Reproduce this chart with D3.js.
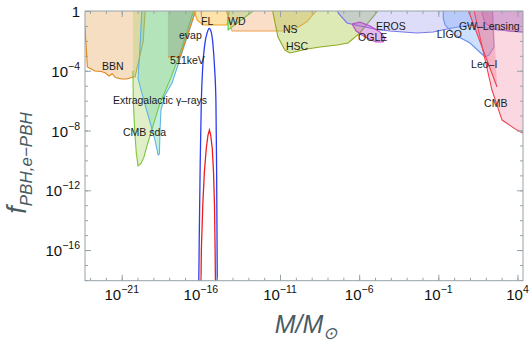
<!DOCTYPE html>
<html>
<head>
<meta charset="utf-8">
<script src="https://cdn.jsdelivr.net/npm/d3@7"></script>
<style>
  body { margin: 0; background: #fff; }
  svg { display: block; font-family: "Liberation Sans", Arial, sans-serif; }
</style>
</head>
<body>
<div id="chart"></div>
<script>
// axis ranges (log10)
const xRange = [-23.32, 4.35],
  yRange = [-18.05, 0];
const xMajor = [-21, -16, -11, -6, -1, 4];
const yMajor = [0, -4, -8, -12, -16];

// constraint regions, points are [log10 M/Msun, log10 f]
const bbn = [[-23.6, -1.07], [-23.32, -1.07], [-23.17, -3.75], [-22.9, -3.9], [-22.69, -4.02], [-22.3, -4.05], [-22.05, -4.13], [-21.8, -4.35], [-21.6, -4.2], [-21.4, -4.45], [-21.0, -4.55], [-20.68, -4.55], [-20.29, -4.42], [-20.16, -4.42], [-19.65, -2.07], [-19.5, 0.3], [-23.6, 0.3]];
const cmbSda = [[-20.29, -4.0], [-20.27, -6.0], [-20.18, -8.0], [-20.08, -9.5], [-19.97, -10.37], [-19.78, -10.2], [-19.6, -9.8], [-19.4, -9.0], [-18.58, -6.16], [-17.95, -4.62], [-17.3, -2.8], [-16.5, -0.13], [-16.4, 0.3], [-20.29, 0.3]];
const egb = [[-19.72, 0.3], [-19.85, -2.5], [-19.97, -4.49], [-19.78, -5.29], [-19.34, -6.96], [-18.9, -8.63], [-18.7, -9.64], [-18.62, -9.57], [-18.58, -7.97], [-18.52, -6.63], [-18.26, -5.62], [-17.82, -4.82], [-16.37, -0.13], [-16.3, 0.3]];
const evap = [[-18.08, -3.08], [-17.32, -3.08], [-16.24, 0.3], [-18.08, 0.3]];
const fl = [[-16.5, 0.3], [-16.24, -0.6], [-15.86, -0.94], [-14.35, -0.94], [-14.16, 0.3]];
const wd = [[-14.28, 0.3], [-14.28, -1.27], [-12.77, -0.07], [-12.7, 0.3]];
const ns = [[-14.47, 0.3], [-14.03, -1.34], [-10.81, -1.34], [-9.95, -1.16], [-9.31, -0.72], [-8.47, 0.3]];
const hsc = [[-11.5, 0.3], [-11.44, -0.13], [-11.13, -1.74], [-10.69, -2.61], [-10.37, -2.81], [-9.29, -2.54], [-8.47, -2.41], [-7.4, -2.28], [-6.7, -2.14], [-5.95, -1.47], [-5.44, -0.8], [-4.87, -0.07], [-4.8, 0.3]];
const eros = [[-7.4, 0.3], [-7.33, -0.13], [-6.77, -0.8], [-5.95, -1.0], [-4.68, -1.27], [-4.05, -1.34], [-3.23, -1.41], [-2.34, -1.47], [-1.33, -1.41], [-0.45, -1.2], [0.24, -1.07], [1.0, -0.94], [2.71, -1.27], [4.35, -1.41], [4.6, -1.41], [4.6, 0.3]];
const ogle = [[-6.45, -0.87], [-5.95, -0.74], [-5.31, -1.0], [-4.68, -1.41], [-4.37, -1.81], [-4.49, -2.07], [-4.94, -2.07], [-5.63, -1.74], [-6.19, -1.34], [-6.45, -0.87]];
const ligo = [[-0.7, 0.3], [-0.68, -0.5], [-0.57, -0.94], [0.06, -1.61], [1.0, -2.14], [1.95, -3.08], [2.2, -2.95], [2.52, -2.41], [2.4, 0.3]];
const gwLens = [[1.7, 0.3], [1.78, -0.2], [1.95, -0.8], [2.3, -1.05], [2.71, -1.2], [3.5, -1.35], [4.35, -1.41], [4.6, -1.41], [4.6, 0.3]];
const cmbAcc = [[1.2, 0.3], [1.26, 0], [2.39, -5.29], [3.03, -7.3], [3.97, -7.97], [4.35, -8.17], [4.6, -8.3], [4.6, 0.3]];
const leoI = [[2.46, 0.3], [0.8, 0.3], [2.71, -5.09]];

// e-PBH curves
const bluePBH = [[-16.14, -19], [-16.1, -15], [-16.04, -10], [-15.97, -6.0], [-15.88, -3.7], [-15.75, -2.2], [-15.6, -1.45], [-15.47, -1.16], [-15.35, -1.4], [-15.24, -2.2], [-15.14, -3.7], [-15.05, -6.0], [-15.01, -10], [-14.98, -15], [-14.96, -19]];
const redPBH = [[-16.0, -19], [-15.97, -16], [-15.88, -13], [-15.78, -10.8], [-15.66, -9.2], [-15.55, -8.3], [-15.46, -7.97], [-15.38, -8.3], [-15.28, -9.2], [-15.2, -10.8], [-15.14, -13], [-15.1, -16], [-15.07, -19]];

// region labels: text, log10 M, log10 f
const labels = [
  ["BBN", -22.24, -3.95],
  ["evap", -17.38, -1.87],
  ["511keV", -17.95, -3.55],
  ["FL", -15.99, -0.94],
  ["WD", -14.28, -0.94],
  ["NS", -10.81, -1.47],
  ["HSC", -10.62, -2.61],
  ["EROS", -4.94, -1.27],
  ["OGLE", -6.07, -2.0],
  ["LIGO", -1.1, -1.8],
  ["GW–Lensing", 0.3, -1.27],
  ["Leo–I", 1.07, -3.82],
  ["CMB", 1.89, -6.43],
  ["Extragalactic γ–rays", -21.55, -6.22],
  ["CMB sda", -20.92, -8.37],
];

const regions = [
  { pts: bbn, fill: "#e8a860", stroke: "#e0861a", op: 0.38 },
  { pts: cmbSda, fill: "#a8d060", stroke: "#7cc63a", op: 0.35 },
  { pts: egb, fill: "#60d0a0", stroke: "#5fb4e6", op: 0.35 },
  { pts: evap, fill: "#7a8a70", stroke: "#e8861a", op: 0.3 },
  { pts: fl, fill: "#f8c040", stroke: "#f0a020", op: 0.45 },
  { pts: wd, fill: "#60e060", stroke: "#40d040", op: 0.35 },
  { pts: ns, fill: "#f0a060", stroke: "#f0a050", op: 0.35 },
  { pts: hsc, fill: "#a8c840", stroke: "#90aa20", op: 0.38 },
  { pts: eros, fill: "#9090f0", stroke: "#7878e8", op: 0.3 },
  { pts: ogle, fill: "#c050d0", stroke: "#b848c8", op: 0.4 },
  { pts: ligo, fill: "#80b0f8", stroke: "#6890f0", op: 0.4 },
  { pts: gwLens, fill: "#a060c0", stroke: "#9a5ccc", op: 0.3 },
  { pts: cmbAcc, fill: "#f490a8", stroke: "#f04050", op: 0.35 },
  { pts: leoI, fill: "#f06080", stroke: "#f04050", op: 0.3 },
];

const width = 529,
  height = 343,
  plotLeft = 85,
  plotRight = 523,
  plotTop = 11,
  plotBottom = 280.7,
  frameColor = "#97a3a8",
  labelColor = "#4a5b64";

const x = d3.scaleLog().domain([10 ** xRange[0], 10 ** xRange[1]]).range([plotLeft, plotRight]);
const y = d3.scaleLog().domain([10 ** yRange[0], 10 ** yRange[1]]).range([plotBottom, plotTop]);

const svg = d3.select("#chart").append("svg").attr("width", width).attr("height", height);

svg.append("clipPath").attr("id", "plot-clip").append("rect").attr("x", plotLeft).attr("y", plotTop).attr("width", plotRight - plotLeft).attr("height", plotBottom - plotTop);

const line = d3
  .line()
  .x((d) => x(10 ** d[0]))
  .y((d) => y(10 ** d[1]));

// regions
let area = svg.append("g").attr("clip-path", "url(#plot-clip)");
regions.forEach((r) => {
  area.append("path").attr("d", line(r.pts) + "Z").attr("fill", r.fill).attr("fill-opacity", r.op).attr("stroke", "none");
  area.append("path").attr("d", line(r.pts)).attr("fill", "none").attr("stroke", r.stroke).attr("stroke-width", 1.1);
});

// e-PBH lines
area.append("path").attr("d", line.curve(d3.curveMonotoneX)(bluePBH)).attr("fill", "none").attr("stroke", "#2a3cf0").attr("stroke-width", 1.3);
line.curve(d3.curveLinear);
area.append("path").attr("d", line(redPBH)).attr("fill", "none").attr("stroke", "#f01c1c").attr("stroke-width", 1.3);

// labels
svg
  .append("g")
  .selectAll("text")
  .data(labels)
  .enter()
  .append("text")
  .attr("x", (d) => x(10 ** d[1]))
  .attr("y", (d) => y(10 ** d[2]))
  .attr("font-size", 10.5)
  .attr("fill", "#1a1a1a")
  .text((d) => d[0]);

// frame + ticks
const xMinor = d3.range(-23, 5).map((e) => 10 ** e),
  yMinor = d3.range(-18, 1).map((e) => 10 ** e);

function ticks(axis, vals, size, tx, ty) {
  const g = svg.append("g").attr("transform", `translate(${tx},${ty})`).call(axis.tickValues(vals).tickSize(size).tickFormat(""));
  g.select(".domain").remove();
  g.selectAll("line").attr("stroke", frameColor);
}
ticks(d3.axisBottom(x), xMinor, -3, 0, plotBottom);
ticks(d3.axisBottom(x), xMajor.map((e) => 10 ** e), -6, 0, plotBottom);
ticks(d3.axisTop(x), xMinor, -3, 0, plotTop);
ticks(d3.axisTop(x), xMajor.map((e) => 10 ** e), -6, 0, plotTop);
ticks(d3.axisLeft(y), yMinor, -3, plotLeft, 0);
ticks(d3.axisLeft(y), yMajor.map((e) => 10 ** e), -6, plotLeft, 0);
ticks(d3.axisRight(y), yMinor, -3, plotRight, 0);
ticks(d3.axisRight(y), yMajor.map((e) => 10 ** e), -6, plotRight, 0);

svg.append("rect").attr("x", plotLeft).attr("y", plotTop).attr("width", plotRight - plotLeft).attr("height", plotBottom - plotTop).attr("fill", "none").attr("stroke", frameColor).attr("stroke-width", 1);

// tick labels
function powerLabel(sel, e) {
  if (e === 0) {
    sel.text("1");
    return;
  }
  sel.append("tspan").text("10");
  sel.append("tspan").attr("dy", -7).attr("font-size", 10.5).text(String(e).replace("-", "−"));
}
xMajor.forEach((e) => {
  const t = svg.append("text").attr("x", x(10 ** e)).attr("y", plotBottom + 19).attr("text-anchor", "middle").attr("font-size", 15).attr("fill", "#111");
  powerLabel(t, e);
});
yMajor.forEach((e) => {
  const t = svg.append("text").attr("x", plotLeft - 5).attr("y", y(10 ** e) + 6).attr("text-anchor", "end").attr("font-size", 15).attr("fill", "#111");
  powerLabel(t, e);
});

// axis titles
const yl = svg.append("text").attr("transform", "translate(26,163) rotate(-90)").attr("text-anchor", "middle").attr("fill", labelColor).attr("font-style", "italic");
yl.append("tspan").attr("font-size", 27).text("f");
yl.append("tspan").attr("font-size", 17).attr("dy", 6).text("PBH,e−PBH");

const xl = svg.append("text").attr("x", 306).attr("y", 333).attr("text-anchor", "middle").attr("fill", labelColor).attr("font-style", "italic");
xl.append("tspan").attr("font-size", 25).text("M/M");
xl.append("tspan").attr("font-size", 17).attr("dy", 6).text("⊙");
</script>
</body>
</html>
